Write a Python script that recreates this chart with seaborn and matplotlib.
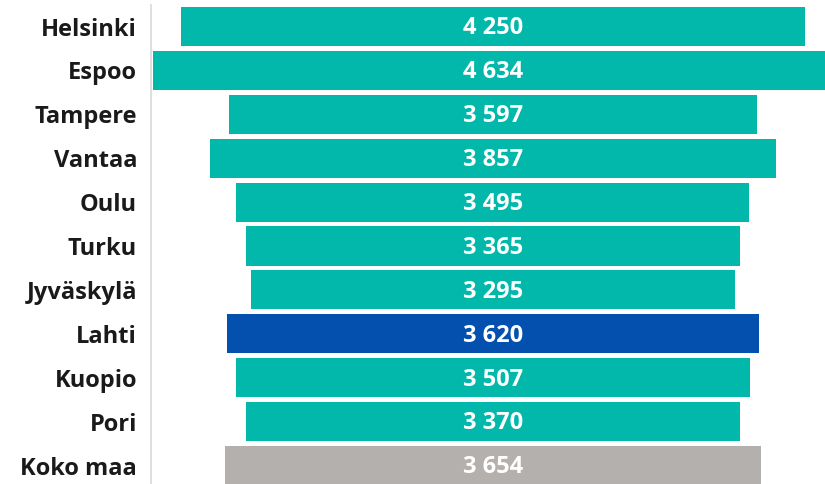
import matplotlib
matplotlib.use("Agg")
import matplotlib.pyplot as plt
import seaborn as sns
import pandas as pd

cities = ["Helsinki", "Espoo", "Tampere", "Vantaa", "Oulu", "Turku",
          "Jyväskylä", "Lahti", "Kuopio", "Pori", "Koko maa"]
values = [4250, 4634, 3597, 3857, 3495, 3365, 3295, 3620, 3507, 3370, 3654]
colors = ["#01B8AA"] * 7 + ["#0350AE"] + ["#01B8AA"] * 2 + ["#B3B0AD"]

df = pd.DataFrame({"city": cities, "value": values})

sns.set_theme(style="white")
plt.rcParams["font.family"] = ["Open Sans", "DejaVu Sans"]

fig = plt.figure(figsize=(8.25, 4.84), dpi=100)
ax = fig.add_axes([151 / 825, 0, 1 - 151 / 825, 479 / 484])

sns.barplot(data=df, y="city", x="value", hue="city", palette=colors,
            orient="h", width=0.89, legend=False, ax=ax, saturation=1)

for p in ax.patches:
    w = p.get_width()
    p.set_x(-w / 2)
    p.set_linewidth(0)

for i, v in enumerate(values):
    ax.text(0, i + 0.04, f"{v:,}".replace(",", " "), ha="center", va="center",
            color="white", fontsize=17, fontweight="bold")

ax.set_xlim(-2330, 2262)
ax.set_ylim(10.42, -0.49)
ax.set_xlabel("")
ax.set_ylabel("")
ax.set_xticks([])
ax.tick_params(axis="y", length=0, pad=10, labelsize=17, labelcolor="#1a1a1a")
for lbl in ax.get_yticklabels():
    lbl.set_fontweight("bold")
for s in ["top", "right", "bottom"]:
    ax.spines[s].set_visible(False)
ax.spines["left"].set_color("#d9d9d9")
ax.spines["left"].set_linewidth(1.2)

fig.savefig("out.png", dpi=100)
